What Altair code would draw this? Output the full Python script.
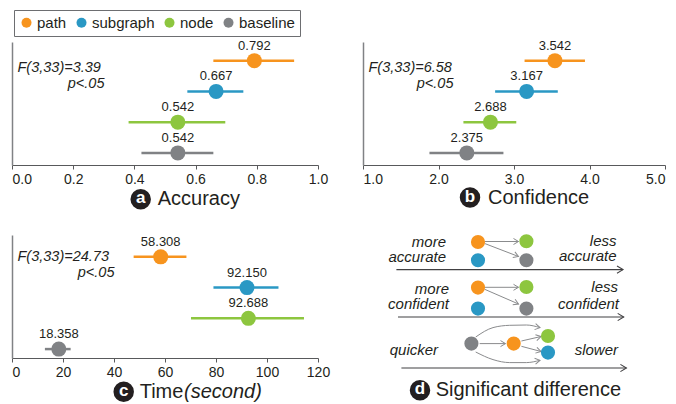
import math
import altair as alt
import pandas as pd

# ---------------- data ----------------
groups = ["path", "subgraph", "node", "baseline"]
palette = ["#F7941E", "#2A98C4", "#8DC63F", "#808285"]

acc_mean = [0.792, 0.667, 0.542, 0.542]
acc_low = [0.658, 0.573, 0.381, 0.423]
acc_high = [0.922, 0.756, 0.697, 0.658]

conf_mean = [3.542, 3.167, 2.688, 2.375]
conf_low = [3.14, 2.75, 2.33, 1.88]
conf_high = [3.94, 3.58, 3.03, 2.86]

time_mean = [58.308, 92.150, 92.688, 18.358]
time_low = [47.7, 79.0, 70.2, 12.9]
time_high = [68.4, 104.5, 114.5, 23.0]

acc_ticks = [0.0, 0.1, 0.2, 0.3, 0.4, 0.5, 0.6, 0.7, 0.8, 0.9, 1.0]
conf_ticks = [1.0, 2.0, 3.0, 4.0, 5.0]
time_ticks = [0, 10, 20, 30, 40, 50, 60, 70, 80, 90, 100, 110, 120]

stat_texts = ["F(3,33)=3.39", "F(3,33)=6.58", "F(3,33)=24.73"]
p_text = "p<.05"
panel_letters = ["a", "b", "c", "d"]
panel_titles = ["Accuracy", "Confidence", "Time", "Significant difference"]
time_unit = "(second)"

# significant-difference diagram (diagram coordinates)
node_group = ["path", "subgraph", "node", "baseline",
              "path", "subgraph", "node", "baseline",
              "baseline", "path", "node", "subgraph"]
node_x = [115, 115, 163.4, 163.4, 115, 115, 163.4, 163.4, 108.4, 150.7, 185, 185]
node_y = [7, 25.3, 6.3, 25.3, 52.6, 73.6, 52, 73.6, 108.6, 108.6, 101, 117.6]

arrow_x = [121.7, 121.7, 121.7, 121.7, 116.7, 158.4, 158.4]
arrow_y = [6.5, 8.5, 52.3, 54.3, 108.6, 106, 111.3]
arrow_x2 = [155.5, 155.5, 155.5, 155.5, 142.5, 178, 178]
arrow_y2 = [6.5, 21.5, 52.3, 69, 108.6, 101.5, 116.5]

curve_id = ["up"] * 5 + ["down"] * 5
curve_x = [112.7, 130, 146.7, 163.4, 177, 112.7, 130, 146.7, 163.4, 177]
curve_y = [102, 92.6, 90.3, 90, 92.6, 117, 124.6, 127.6, 127.6, 125.3]

scale_x = [33.4, 35, 38.4]
scale_x2 = [260, 260.7, 263.4]
scale_y = [34.6, 82, 133]

rtext = ["more", "accurate", "more", "confident",
         "less", "accurate", "less", "confident", "slower"]
rtext_x = [83, 83, 86, 86, 253.5, 253.5, 255, 256, 255]
rtext_y = [6.5, 22, 53.8, 69.3, 5.8, 21.3, 52, 68.6, 114.6]
ltext = ["quicker"]
ltext_x = [26.7]
ltext_y = [115.3]

# ---------------- style ----------------
FONT = "Liberation Sans"
INK = "#231F20"
AXIS = "#58595B"
ARROW = "#8A8B8D"
WA, WB, WC = 306, 302, 306
H = 123
DW, DH = 302, 165

color_scale = alt.Scale(domain=groups, range=palette)

legend = alt.Legend(
    orient="none", legendX=2, legendY=-32, direction="horizontal", title=None,
    symbolType="circle", symbolSize=100, symbolStrokeWidth=0, symbolOpacity=1,
    labelFont=FONT, labelFontSize=15, labelColor=INK, labelOffset=3,
    columnPadding=7, padding=5, strokeColor="#6D6E71", fillColor="white",
)


def color_enc():
    return alt.Color("group:N", scale=color_scale, legend=legend)


def txt(s):
    return pd.DataFrame({"t": [s]})


def title_layers(letter, parts, bx, by):
    layers = [
        alt.Chart(txt(letter)).mark_circle(size=420, color=INK, opacity=1).encode(
            x=alt.value(bx), y=alt.value(by)),
        alt.Chart(txt(letter)).mark_text(
            font=FONT, fontSize=17, fontWeight="bold", color="white",
            align="center", baseline="middle", dy=-1).encode(
            x=alt.value(bx), y=alt.value(by), text="t:N"),
    ]
    for s, x, style in parts:
        layers.append(
            alt.Chart(txt(s)).mark_text(
                font=FONT, fontSize=20, fontStyle=style, color=INK,
                align="left", baseline="middle").encode(
                x=alt.value(x), y=alt.value(by), text="t:N"))
    return layers


def panel(mean, low, high, domain, ticks, label_expr, fmt, width, align_cond,
          stat, p_right, pad_outer, align, letter, parts, bx, by, stat_base):
    df = pd.DataFrame({"group": groups, "mean": mean, "low": low, "high": high})
    x_axis = alt.Axis(
        values=ticks, labelExpr=label_expr, format=fmt, title=None, grid=False,
        tickSize=4, tickColor=AXIS, tickWidth=1, domainColor=AXIS, domainWidth=1,
        labelFont=FONT, labelFontSize=14, labelColor=INK, labelPadding=3,
        labelFlush=False, labelOverlap=False,
        labelAlign={"condition": align_cond, "value": "center"},
    )
    xs = alt.Scale(domain=domain, nice=False, zero=False)
    ys = alt.Scale(type="point", domain=groups, paddingOuter=pad_outer, align=align)
    y = alt.Y("group:N", scale=ys,
              axis=alt.Axis(title=None, labels=False, ticks=False, grid=False,
                            domainColor="#808285", domainWidth=1.5))
    base = alt.Chart(df)
    bars = base.mark_rule(strokeWidth=2.5).encode(
        x=alt.X("low:Q", scale=xs, axis=x_axis), x2="high:Q", y=y,
        color=color_enc())
    dots = base.mark_circle(size=225, opacity=1).encode(
        x=alt.X("mean:Q", scale=xs), y=y, color=color_enc())
    vals = base.mark_text(dy=-15, font=FONT, fontSize=13, color=INK,
                          baseline="middle").encode(
        x=alt.X("mean:Q", scale=xs), y=y, text=alt.Text("mean:Q", format=".3f"))
    s1 = alt.Chart(txt(stat)).mark_text(
        font=FONT, fontSize=14.5, fontStyle="italic", color=INK,
        align="left", baseline="alphabetic").encode(
        x=alt.value(5.5), y=alt.value(stat_base), text="t:N")
    s2 = alt.Chart(txt(p_text)).mark_text(
        font=FONT, fontSize=14.5, fontStyle="italic", color=INK,
        align="right", baseline="alphabetic").encode(
        x=alt.value(p_right), y=alt.value(stat_base + 16), text="t:N")
    layers = [bars, dots, vals, s1, s2] + title_layers(letter, parts, bx, by)
    return alt.layer(*layers).properties(width=width, height=H)


left_only = [{"test": "datum.value <= 0", "value": "left"}]

pa = panel(acc_mean, acc_low, acc_high, [0, 1], acc_ticks,
           "abs(round(datum.value*10)) % 2 == 0 ? format(datum.value, '.1f') : ''", ".1f",
           WA, left_only,
           stat_texts[0], 92.5, 0.55, 0.606, panel_letters[0],
           [(panel_titles[0], 145.7, "normal")], 128.7, 157.3, 29.6)

pb = panel(conf_mean, conf_low, conf_high, [1, 5], conf_ticks,
           "format(datum.value, '.1f')", ".1f", WB,
           [{"test": "datum.value <= 1", "value": "left"},
            {"test": "datum.value >= 5", "value": "right"}],
           stat_texts[1], 90.5, 0.55, 0.606, panel_letters[1],
           [(panel_titles[1], 125, "normal")], 107, 155.5, 29.6)

pc = panel(time_mean, time_low, time_high, [0, 120], time_ticks,
           "datum.value % 20 == 0 ? format(datum.value, 'd') : ''", "d", WC,
           left_only,
           stat_texts[2], 102.5, 0.67, 0.71, panel_letters[2],
           [(panel_titles[2], 127.7, "normal"), (time_unit, 172, "italic")],
           111.7, 156.7, 25.5)

# ---------------- diagram panel ----------------
dxs = alt.Scale(domain=[0, DW], nice=False, zero=False)
dys = alt.Scale(domain=[0, DH], nice=False, zero=False, reverse=True)


def X(f):
    return alt.X(f, scale=dxs, axis=None)


def Y(f):
    return alt.Y(f, scale=dys, axis=None)


nodes = pd.DataFrame({"group": node_group, "x": node_x, "y": node_y})
arrows = pd.DataFrame({"x": arrow_x, "y": arrow_y, "x2": arrow_x2, "y2": arrow_y2})
curves = pd.DataFrame({"cid": curve_id, "x": curve_x, "y": curve_y,
                       "i": list(range(len(curve_x)))})
scales = pd.DataFrame({"x": scale_x, "x2": scale_x2, "y": scale_y})

heads = []
for a, b, c, d in zip(arrow_x, arrow_y, arrow_x2, arrow_y2):
    heads.append((c, d, math.degrees(math.atan2(d - b, c - a)) % 360))
for cid in ["up", "down"]:
    pts = [(x, y) for k, x, y in zip(curve_id, curve_x, curve_y) if k == cid]
    (a, b), (c, d) = pts[-2], pts[-1]
    heads.append((c, d, math.degrees(math.atan2(d - b, c - a)) % 360))
head_df = pd.DataFrame(heads, columns=["x", "y", "ang"])
scale_heads = pd.DataFrame({"x": scale_x2, "y": scale_y, "ang": [0] * len(scale_x2)})

CHEVRON = "M-1,-0.6L0,0L-1,0.6"

d_layers = [
    alt.Chart(scales).mark_rule(color="#414042", strokeWidth=1.2).encode(
        x=X("x:Q"), x2="x2:Q", y=Y("y:Q")),
    alt.Chart(scale_heads).mark_point(shape=CHEVRON, size=144, filled=False,
                                      color="#414042", strokeWidth=1.1, opacity=1).encode(
        x=X("x:Q"), y=Y("y:Q"), angle=alt.Angle("ang:Q", scale=None)),
    alt.Chart(arrows).mark_rule(color=ARROW, strokeWidth=1).encode(
        x=X("x:Q"), y=Y("y:Q"), x2="x2:Q", y2="y2:Q"),
    alt.Chart(curves).mark_line(color=ARROW, strokeWidth=1, interpolate="monotone").encode(
        x=X("x:Q"), y=Y("y:Q"), detail="cid:N", order="i:Q"),
    alt.Chart(head_df).mark_point(shape=CHEVRON, size=100, filled=False,
                                  color=ARROW, strokeWidth=1, opacity=1).encode(
        x=X("x:Q"), y=Y("y:Q"), angle=alt.Angle("ang:Q", scale=None)),
    alt.Chart(nodes).mark_circle(size=200, opacity=1).encode(
        x=X("x:Q"), y=Y("y:Q"), color=color_enc()),
    alt.Chart(pd.DataFrame({"t": rtext, "x": rtext_x, "y": rtext_y})).mark_text(
        font=FONT, fontSize=15, fontStyle="italic", color=INK,
        align="right", baseline="middle").encode(
        x=X("x:Q"), y=Y("y:Q"), text="t:N"),
    alt.Chart(pd.DataFrame({"t": ltext, "x": ltext_x, "y": ltext_y})).mark_text(
        font=FONT, fontSize=15, fontStyle="italic", color=INK,
        align="left", baseline="middle").encode(
        x=X("x:Q"), y=Y("y:Q"), text="t:N"),
] + title_layers(panel_letters[3], [(panel_titles[3], 72.7, "normal")], 57, 155.3)

pd_panel = alt.layer(*d_layers).properties(width=DW, height=DH)

chart = alt.concat(
    pa, pb, pc, pd_panel, columns=2,
    spacing={"row": 70, "column": 45}, bounds="flush", align="each",
).configure_view(stroke=None).properties(
    padding={"left": 3, "top": 1, "right": 0, "bottom": 0})

chart.save("out.html", embed_options={"renderer": "svg", "actions": False})
